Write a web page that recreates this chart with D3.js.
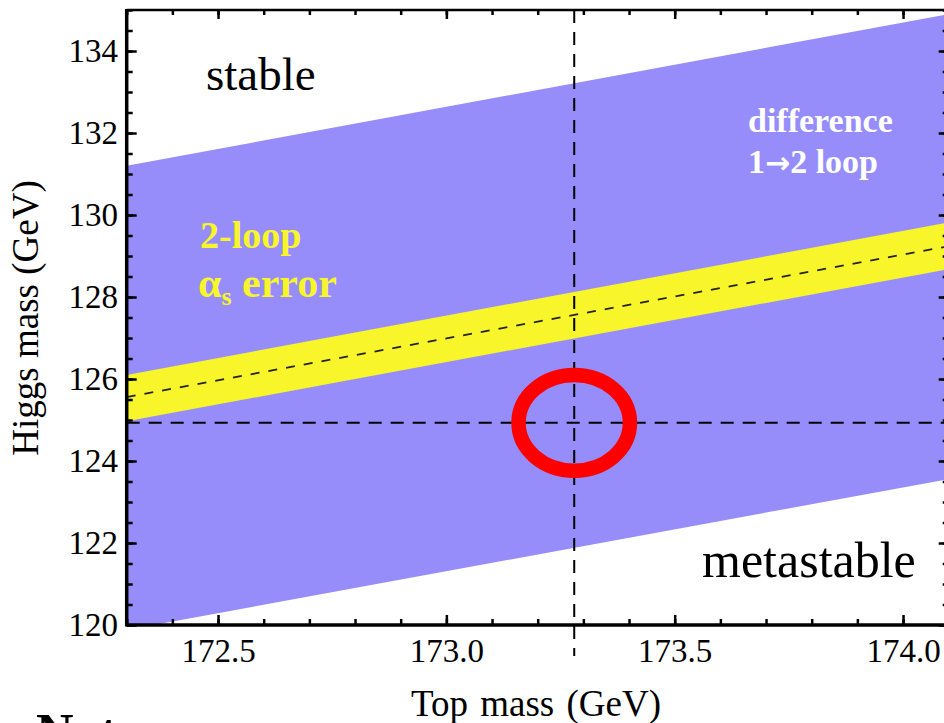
<!DOCTYPE html>
<html>
<head>
<meta charset="utf-8">
<script src="https://cdn.jsdelivr.net/npm/d3@7"></script>
<style>
  html, body { margin: 0; padding: 0; background: #ffffff; }
  svg { display: block; }
  svg text { font-family: "Liberation Serif", "Times New Roman", serif !important; }
  svg text tspan.arrow { font-family: "DejaVu Sans", sans-serif !important; }
</style>
</head>
<body>
<svg id="chart" width="944" height="723"></svg>
<script>
// ---- data ----
const topMass   = [172.3, 174.1];          // GeV, x extent of the bands
const diffLow   = [119.88, 123.56];        // 1→2 loop difference band, lower edge
const diffHigh  = [131.20, 134.90];        // 1→2 loop difference band, upper edge
const asLow     = [124.97, 128.68];        // 2-loop alpha_s error band, lower edge
const asHigh    = [126.10, 129.82];        // 2-loop alpha_s error band, upper edge
const central   = [125.56, 129.24];        // central 2-loop line
const measuredTop   = 173.28;              // vertical dashed line
const measuredHiggs = 124.93;              // horizontal dashed line
const ellipseHalf   = [0.122, 1.165];      // half-axes of red ring (GeV, GeV)
const xMajorTicks = [172.5, 173.0, 173.5, 174.0];
const xMinorTicks = d3.range(1723, 1742).map(v => v / 10);
const yMajorTicks = [120, 122, 124, 126, 128, 130, 132, 134];
const yMinorTicks = d3.range(240, 271).map(v => v / 2);

// ---- layout ----
const svg = d3.select("#chart");
const x = d3.scaleLinear().domain([172.3, 174.1]).range([126.7, 948.7]);
const y = d3.scaleLinear().domain([120, 135]).range([625, 10]);
const [x0, x1] = x.range();
const [y0, y1] = y.range();

const BLUE = "#968dfa";
const YELLOW = "#f8f52a";

svg.append("defs").append("clipPath").attr("id", "plotclip")
  .append("rect").attr("x", x0).attr("y", y1).attr("width", x1 - x0).attr("height", y0 - y1);

const plot = svg.append("g").attr("clip-path", "url(#plotclip)");

const rows = (lo, hi) => topMass.map((m, i) => ({ m, lo: lo[i], hi: hi[i] }));
const area = d3.area().x(d => x(d.m)).y0(d => y(d.lo)).y1(d => y(d.hi));

plot.append("path").datum(rows(diffLow, diffHigh)).attr("d", area).attr("fill", BLUE);
plot.append("path").datum(rows(asLow, asHigh)).attr("d", area).attr("fill", YELLOW);

plot.append("path")
  .datum(topMass.map((m, i) => ({ m, v: central[i] })))
  .attr("d", d3.line().x(d => x(d.m)).y(d => y(d.v)))
  .attr("fill", "none").attr("stroke", "#222").attr("stroke-width", 1.7)
  .attr("stroke-dasharray", "9,9");

// horizontal measured Higgs mass
svg.append("line")
  .attr("x1", x0).attr("x2", 944).attr("y1", y(measuredHiggs)).attr("y2", y(measuredHiggs))
  .attr("stroke", "#000").attr("stroke-width", 2).attr("stroke-dasharray", "13,9");
// vertical measured top mass
svg.append("line")
  .attr("x1", x(measuredTop)).attr("x2", x(measuredTop)).attr("y1", y1).attr("y2", 656)
  .attr("stroke", "#000").attr("stroke-width", 2).attr("stroke-dasharray", "13,9");

// red ring
svg.append("ellipse")
  .attr("cx", x(measuredTop)).attr("cy", y(measuredHiggs))
  .attr("rx", x(measuredTop + ellipseHalf[0]) - x(measuredTop))
  .attr("ry", y(measuredHiggs) - y(measuredHiggs + ellipseHalf[1]))
  .attr("fill", "none").attr("stroke", "#ff0000").attr("stroke-width", 14.5);

// ---- axes (inward ticks) ----
function styleAxis(g) {
  g.attr("font-family", null);
  g.select(".domain").remove();
  g.selectAll(".tick line").attr("stroke", "#000").attr("stroke-width", 2.5);
  g.selectAll(".tick text")
    .style("font-family", "'Liberation Serif', 'Times New Roman', serif")
    .attr("font-size", 33).attr("fill", "#000");
}
const fmtX = d3.format(".1f");

svg.append("g").attr("transform", `translate(0,${y0})`)
  .call(d3.axisBottom(x).tickValues(xMajorTicks).tickSize(-10).tickPadding(13.6).tickFormat(fmtX))
  .call(styleAxis);
svg.append("g").attr("transform", `translate(0,${y0})`)
  .call(d3.axisBottom(x).tickValues(xMinorTicks).tickSize(-6).tickFormat(""))
  .call(styleAxis);
svg.append("g").attr("transform", `translate(0,${y1})`)
  .call(d3.axisTop(x).tickValues(xMajorTicks).tickSize(-9).tickFormat(""))
  .call(styleAxis);
svg.append("g").attr("transform", `translate(0,${y1})`)
  .call(d3.axisTop(x).tickValues(xMinorTicks).tickSize(-5).tickFormat(""))
  .call(styleAxis);

svg.append("g").attr("transform", `translate(${x0},0)`)
  .call(d3.axisLeft(y).tickValues(yMajorTicks).tickSize(-10).tickPadding(8.7).tickFormat(d3.format("d")))
  .call(styleAxis);
svg.append("g").attr("transform", `translate(${x0},0)`)
  .call(d3.axisLeft(y).tickValues(yMinorTicks).tickSize(-6).tickFormat(""))
  .call(styleAxis);
svg.append("g").attr("transform", `translate(${x1},0)`)
  .call(d3.axisRight(y).tickValues(yMajorTicks).tickSize(-10).tickFormat(""))
  .call(styleAxis);
svg.append("g").attr("transform", `translate(${x1},0)`)
  .call(d3.axisRight(y).tickValues(yMinorTicks).tickSize(-6).tickFormat(""))
  .call(styleAxis);

// frame
svg.append("line").attr("x1", x0).attr("x2", x1).attr("y1", y0).attr("y2", y0)
  .attr("stroke", "#000").attr("stroke-width", 3.5);
svg.append("line").attr("x1", x0).attr("x2", x0).attr("y1", y1 - 1).attr("y2", y0 + 1.5)
  .attr("stroke", "#000").attr("stroke-width", 3.5);
svg.append("line").attr("x1", x0).attr("x2", x1).attr("y1", y1).attr("y2", y1)
  .attr("stroke", "#000").attr("stroke-width", 2.5);
svg.append("line").attr("x1", x1).attr("x2", x1).attr("y1", y1).attr("y2", y0)
  .attr("stroke", "#000").attr("stroke-width", 2.5);

// axis titles
svg.append("text").attr("x", 536).attr("y", 716).attr("text-anchor", "middle")
  .attr("font-size", 37).attr("word-spacing", 3).attr("fill", "#000").text("Top mass (GeV)");
svg.append("text").attr("transform", "translate(38,318) rotate(-90)").attr("text-anchor", "middle")
  .attr("font-size", 37).attr("fill", "#000").text("Higgs mass (GeV)");

// annotations
svg.append("text").attr("x", 206).attr("y", 90).attr("font-size", 47).attr("fill", "#000").text("stable");
svg.append("text").attr("x", 702).attr("y", 577).attr("font-size", 50).attr("fill", "#000").text("metastable");

svg.append("text").attr("x", 748).attr("y", 132).attr("font-size", 34).attr("font-weight", "bold")
  .attr("fill", "#fff").text("difference");
const l2 = svg.append("text").attr("x", 748).attr("y", 173).attr("font-size", 34)
  .attr("font-weight", "bold").attr("fill", "#fff");
l2.append("tspan").text("1");
l2.append("tspan").attr("class", "arrow").attr("font-size", 30).text("→");
l2.append("tspan").text("2 loop");

svg.append("text").attr("x", 200).attr("y", 248).attr("font-size", 38).attr("font-weight", "bold")
  .attr("fill", YELLOW).text("2-loop");
const l4 = svg.append("text").attr("x", 198).attr("y", 297).attr("font-size", 42)
  .attr("font-weight", "bold").attr("fill", YELLOW);
l4.append("tspan").text("α");
l4.append("tspan").attr("font-size", 26).attr("dy", 8).text("s");
l4.append("tspan").attr("dy", -8).text(" error");

// slide text that the reference shows cut off at its bottom edge
svg.append("text").attr("x", 36).attr("y", 750).attr("font-size", 52).attr("font-weight", "bold")
  .attr("fill", "#000").text("Note");
</script>
</body>
</html>
